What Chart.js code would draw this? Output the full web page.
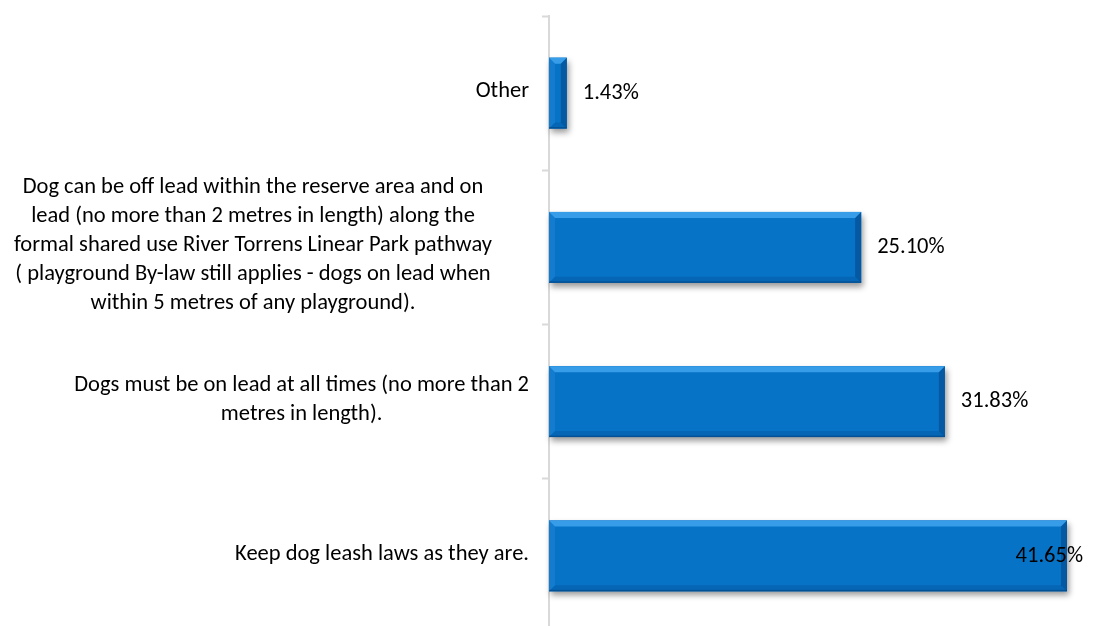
<!DOCTYPE html>
<html>
<head>
<meta charset="utf-8">
<script src="https://cdn.jsdelivr.net/npm/chart.js@4/dist/chart.umd.min.js"></script>
<style>
  html, body { margin: 0; padding: 0; background: #fff; overflow: hidden; }
  #wrap { position: relative; width: 1096px; height: 650px; }
</style>
</head>
<body>
<div id="wrap"><canvas id="myChart"></canvas></div>
<script>
var categories = [
    ['Other'],
    ['Dog can be off lead within the reserve area and on',
     'lead (no more than 2 metres in length) along the',
     'formal shared use River Torrens Linear Park pathway',
     '( playground By-law still applies - dogs on lead when',
     'within 5 metres of any playground).'],
    ['Dogs must be on lead at all times (no more than 2',
     'metres in length).'],
    ['Keep dog leash laws as they are.']
];
var values = [1.43, 25.10, 31.83, 41.65];

var FONT = 'Carlito, Calibri, Lato, sans-serif';
var barColor = '#0773c7';
// gap between label block and axis (excel pushes the long wrapped one further left)
var labelGap = [20, 57, 20, 20];

// shadow under each bar, drawn before chart.js paints the bars
var barShadow = {
    id: 'barShadow',
    beforeDatasetsDraw: function(chart) {
        var ctx = chart.ctx;
        var meta = chart.getDatasetMeta(0);
        ctx.save();
        ctx.shadowColor = 'rgba(0,0,0,0.4)';
        ctx.shadowBlur = 6;
        ctx.shadowOffsetX = 2;
        ctx.shadowOffsetY = 4;
        ctx.fillStyle = barColor;
        for (var i = 0; i < meta.data.length; i++) {
            var p = meta.data[i].getProps(['x', 'y', 'base', 'height'], true);
            ctx.fillRect(p.base, p.y - p.height / 2, p.x - p.base, p.height);
        }
        ctx.restore();
    }
};

function poly(ctx, pts, fill) {
    ctx.beginPath();
    ctx.moveTo(pts[0][0], pts[0][1]);
    for (var i = 1; i < pts.length; i++) ctx.lineTo(pts[i][0], pts[i][1]);
    ctx.closePath();
    ctx.fillStyle = fill;
    ctx.fill();
}

// bevelled edges + value labels
var barBevel = {
    id: 'barBevel',
    afterDatasetsDraw: function(chart) {
        var ctx = chart.ctx;
        var meta = chart.getDatasetMeta(0);
        ctx.save();
        for (var i = 0; i < meta.data.length; i++) {
            var p = meta.data[i].getProps(['x', 'y', 'base', 'height'], true);
            var L = p.base, R = p.x, T = p.y - p.height / 2, B = p.y + p.height / 2;
            var b = Math.min(6, (R - L) / 2);
            poly(ctx, [[L, T], [R, T], [R - b, T + b], [L + b, T + b]], 'rgba(90,185,255,0.6)');
            poly(ctx, [[L, T], [L + b, T + b], [L + b, B - b], [L, B]], 'rgba(60,150,230,0.25)');
            poly(ctx, [[L, B], [L + b, B - b], [R - b, B - b], [R, B]], 'rgba(0,50,110,0.2)');
            poly(ctx, [[R, T], [R, B], [R - b, B - b], [R - b, T + b]], 'rgba(0,40,95,0.35)');
            ctx.fillStyle = 'rgba(0,40,90,0.35)';
            ctx.fillRect(L, B - 1.5, R - L, 1.5);
        }

        ctx.font = '22.5px ' + FONT;
        ctx.fillStyle = '#000';
        ctx.textBaseline = 'middle';
        ctx.textAlign = 'left';
        for (var i = 0; i < meta.data.length; i++) {
            var el = meta.data[i];
            var txt = values[i].toFixed(2) + '%';
            var w = ctx.measureText(txt).width;
            var x = el.x + 16;
            if (x + w > chart.width - 13) x = chart.width - 13 - w;
            ctx.fillText(txt, x, el.y);
        }
        ctx.restore();
    }
};

// category labels: each block right aligned, lines centred inside it
var catLabels = {
    id: 'catLabels',
    afterDraw: function(chart) {
        var ctx = chart.ctx;
        var sc = chart.scales.y;
        var lh = 29;
        ctx.save();
        ctx.font = '22.5px ' + FONT;
        ctx.fillStyle = '#000';
        ctx.textBaseline = 'middle';
        ctx.textAlign = 'center';
        for (var i = 0; i < categories.length; i++) {
            var lines = categories[i];
            var widest = 0;
            for (var j = 0; j < lines.length; j++) {
                widest = Math.max(widest, ctx.measureText(lines[j]).width);
            }
            var cx = sc.right - labelGap[i] - widest / 2;
            var cy = sc.getPixelForValue(i) - 2;
            var y0 = cy - (lines.length - 1) * lh / 2;
            for (var j = 0; j < lines.length; j++) {
                ctx.fillText(lines[j], cx, y0 + j * lh);
            }
        }
        ctx.restore();
    }
};

var ctx = document.getElementById('myChart').getContext('2d');
var chart = new Chart(ctx, {
    type: 'bar',
    data: {
        labels: categories.map(function(c) { return c.join(' '); }),
        datasets: [{
            data: values,
            backgroundColor: barColor,
            borderWidth: 0,
            categoryPercentage: 0.46,
            barPercentage: 1
        }]
    },
    options: {
        indexAxis: 'y',
        responsive: true,
        maintainAspectRatio: false,
        animation: false,
        layout: { padding: { top: 16, bottom: 17, right: 6, left: 0 } },
        plugins: {
            legend: { display: false },
            tooltip: { enabled: false }
        },
        scales: {
            x: { display: false, min: 0, max: 43.5 },
            y: {
                afterFit: function(scale) { scale.width = 549; },
                ticks: { display: false },
                grid: {
                    display: true,
                    drawOnChartArea: false,
                    drawTicks: true,
                    tickLength: 7,
                    tickWidth: 2,
                    tickColor: '#d9d9d9',
                    offset: true
                },
                border: { display: true, color: '#d9d9d9', width: 2 }
            }
        }
    },
    plugins: [barShadow, barBevel, catLabels]
});
</script>
</body>
</html>
